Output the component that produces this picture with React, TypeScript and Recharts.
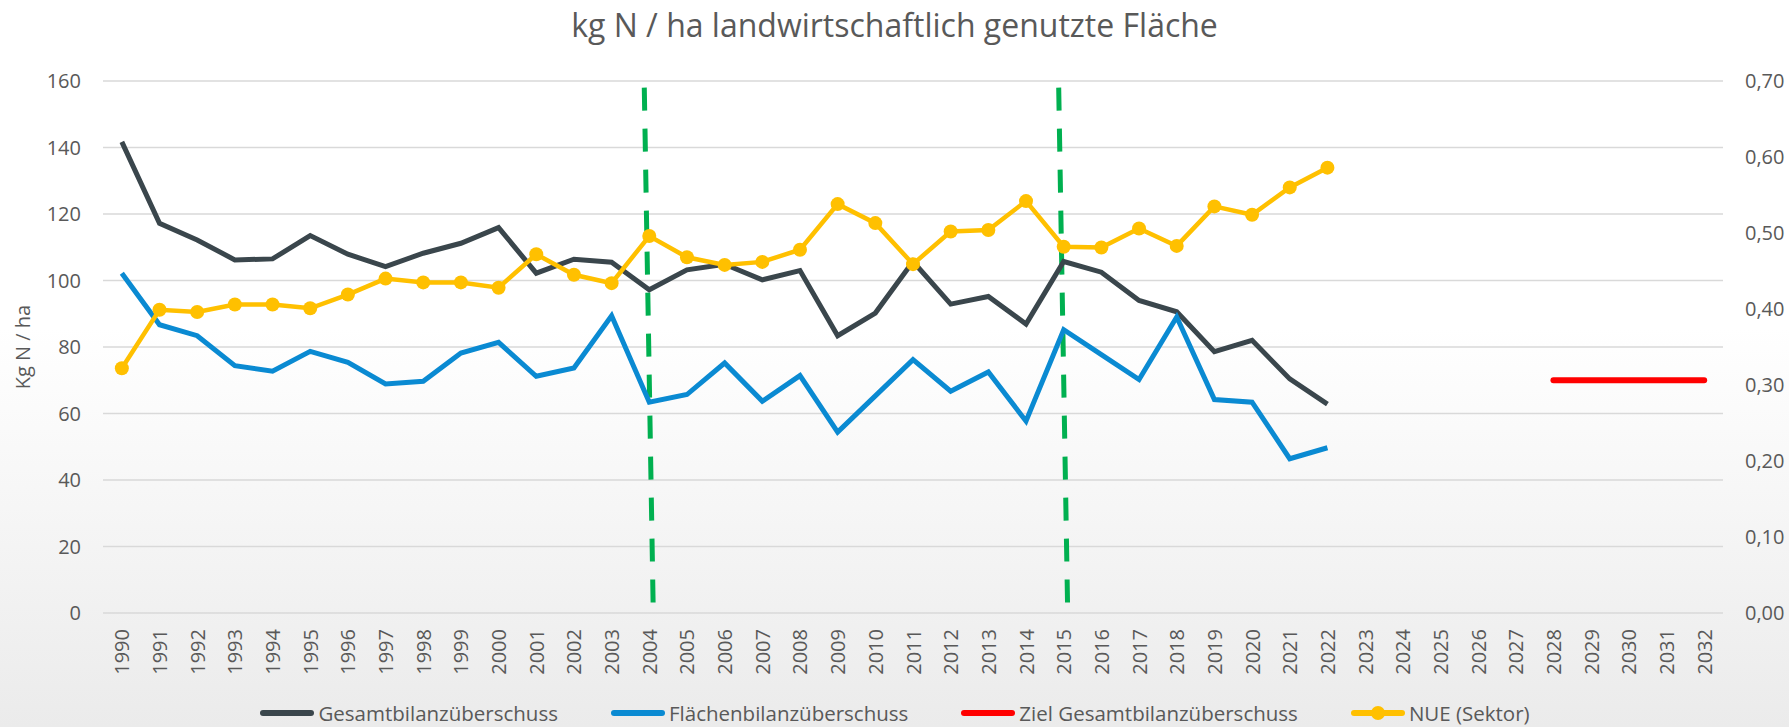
import { CartesianGrid, ComposedChart, Legend, Line, ReferenceLine, XAxis, YAxis } from "recharts";

const years = [
  "1990", "1991", "1992", "1993", "1994", "1995", "1996", "1997", "1998", "1999",
  "2000", "2001", "2002", "2003", "2004", "2005", "2006", "2007", "2008", "2009",
  "2010", "2011", "2012", "2013", "2014", "2015", "2016", "2017", "2018", "2019",
  "2020", "2021", "2022", "2023", "2024", "2025", "2026", "2027", "2028", "2029",
  "2030", "2031", "2032",
];

// kg N / ha, 1990–2022
const gesamt = [
  141.7, 117.2, 112.2, 106.2, 106.5, 113.5, 107.9, 104.2, 108.2, 111.2,
  115.9, 102.2, 106.4, 105.5, 97.2, 103.2, 104.9, 100.2, 103.0, 83.4,
  90.2, 105.7, 92.9, 95.2, 86.9, 105.7, 102.5, 94.0, 90.6, 78.6,
  82.0, 70.4, 62.8,
];

const flaechen = [
  102.2, 86.7, 83.4, 74.4, 72.7, 78.7, 75.4, 68.9, 69.7, 78.2,
  81.4, 71.2, 73.7, 89.4, 63.4, 65.7, 75.2, 63.7, 71.4, 54.4,
  65.3, 76.2, 66.7, 72.5, 57.7, 85.2, 77.7, 70.2, 89.0, 64.2,
  63.4, 46.4, 49.7,
];

// NUE, right axis
const nue = [
  0.322, 0.399, 0.396, 0.406, 0.406, 0.401, 0.419, 0.44, 0.435, 0.435,
  0.428, 0.472, 0.445, 0.434, 0.496, 0.468, 0.458, 0.462, 0.478, 0.538,
  0.513, 0.459, 0.502, 0.504, 0.542, 0.482, 0.481, 0.506, 0.483, 0.535,
  0.524, 0.56, 0.586,
];

const zielYears = ["2028", "2029", "2030", "2031", "2032"];
const zielValue = 70;

const markerYears = ["2004", "2015"];
const markerTop = 158;

const leftTicks = [0, 20, 40, 60, 80, 100, 120, 140, 160];
const rightTicks = [0, 0.1, 0.2, 0.3, 0.4, 0.5, 0.6, 0.7];

const legendOrder = ["gesamt", "flaechen", "ziel", "nue"];

const GRAY = "#3a464c";
const BLUE = "#0a8ad2";
const RED = "#ff0000";
const GOLD = "#ffc000";
const GREEN = "#00b050";
const TEXT = "#595959";
const FONT = "'Open Sans', Lato, sans-serif";

const data = years.map((year, i) => ({
  year,
  gesamt: gesamt[i] ?? null,
  flaechen: flaechen[i] ?? null,
  ziel: zielYears.includes(year) ? zielValue : null,
  nue: nue[i] ?? null,
}));

const fmtRight = (v: number) => v.toFixed(2).replace(".", ",");

function YearTick({ x, y, payload }: any) {
  return (
    <text
      x={x}
      y={y}
      transform={`rotate(-90 ${x} ${y})`}
      textAnchor="end"
      dominantBaseline="central"
      fontSize={20}
      fill={TEXT}
    >
      {payload.value}
    </text>
  );
}

function LeftLabel({ viewBox }: any) {
  const x = viewBox.x + 22;
  const y = viewBox.y + viewBox.height / 2;
  return (
    <text
      x={x}
      y={y}
      transform={`rotate(-90 ${x} ${y})`}
      textAnchor="middle"
      dominantBaseline="central"
      fontSize={20}
      fill={TEXT}
    >
      Kg N / ha
    </text>
  );
}

function LegendContent({ payload }: any) {
  const items = [...(payload || [])].sort(
    (a: any, b: any) => legendOrder.indexOf(a.dataKey) - legendOrder.indexOf(b.dataKey)
  );
  return (
    <div
      style={{
        display: "flex",
        justifyContent: "center",
        gap: 52,
        height: 28,
        lineHeight: "28px",
        fontSize: 20.5,
        color: TEXT,
      }}
    >
      {items.map((p: any) => (
        <span key={p.value} style={{ display: "flex", alignItems: "center", gap: 3 }}>
          <svg width={56} height={16}>
            <line x1={4} y1={8} x2={52} y2={8} stroke={p.color} strokeWidth={6} strokeLinecap="round" />
            {p.dataKey === "nue" && <circle cx={28} cy={8} r={7} fill={p.color} />}
          </svg>
          {p.value}
        </span>
      ))}
    </div>
  );
}

function SlantedDash(props: any) {
  return (
    <line
      x1={props.x1 - 5}
      y1={props.y1}
      x2={props.x2 + 4}
      y2={props.y2}
      stroke={GREEN}
      strokeWidth={5}
      strokeDasharray="23 18"
    />
  );
}

export default function App() {
  return (
    <div
      style={{
        position: "absolute",
        left: 0,
        top: 0,
        width: 1789,
        height: 727,
        fontFamily: FONT,
        background: "linear-gradient(to bottom, #ffffff 0%, #ffffff 45%, #ebebeb 100%)",
        overflow: "hidden",
      }}
    >
      <div
        style={{
          position: "absolute",
          top: 7,
          left: 0,
          width: 1789,
          textAlign: "center",
          fontSize: 32,
          lineHeight: "36px",
          color: TEXT,
        }}
      >
        kg N / ha landwirtschaftlich genutzte Fläche
      </div>
      <ComposedChart
        width={1789}
        height={727}
        data={data}
        margin={{ top: 81, right: 0, bottom: 0, left: 0 }}
      >
        <CartesianGrid yAxisId="left" vertical={false} stroke="#d9d9d9" strokeWidth={1.5} />
        <XAxis
          dataKey="year"
          scale="band"
          interval={0}
          axisLine={false}
          tickLine={false}
          tickSize={0}
          tickMargin={16}
          height={86}
          tick={<YearTick />}
        />
        <YAxis
          yAxisId="left"
          domain={[0, 160]}
          ticks={leftTicks}
          width={103}
          axisLine={false}
          tickLine={false}
          tickSize={0}
          tickMargin={22}
          tick={{ fontSize: 20, fill: TEXT }}
          label={<LeftLabel />}
        />
        <YAxis
          yAxisId="right"
          orientation="right"
          domain={[0, 0.7]}
          ticks={rightTicks}
          width={66}
          axisLine={false}
          tickLine={false}
          tickSize={0}
          tickMargin={22}
          tickFormatter={fmtRight}
          tick={{ fontSize: 20, fill: TEXT, textAnchor: "start" }}
        />
        {markerYears.map((yr) => (
          <ReferenceLine
            key={yr}
            yAxisId="left"
            segment={[
              { x: yr, y: markerTop },
              { x: yr, y: 0 },
            ]}
            shape={<SlantedDash />}
          />
        ))}
        <Line
          yAxisId="left"
          dataKey="gesamt"
          name="Gesamtbilanzüberschuss"
          stroke={GRAY}
          strokeWidth={5}
          dot={false}
          activeDot={false}
          isAnimationActive={false}
        />
        <Line
          yAxisId="left"
          dataKey="flaechen"
          name="Flächenbilanzüberschuss"
          stroke={BLUE}
          strokeWidth={5}
          dot={false}
          activeDot={false}
          isAnimationActive={false}
        />
        <Line
          yAxisId="left"
          dataKey="ziel"
          name="Ziel Gesamtbilanzüberschuss"
          stroke={RED}
          strokeWidth={6}
          strokeLinecap="round"
          dot={false}
          activeDot={false}
          isAnimationActive={false}
        />
        <Line
          yAxisId="right"
          dataKey="nue"
          name="NUE (Sektor)"
          stroke={GOLD}
          strokeWidth={4.5}
          dot={{ r: 7, fill: GOLD, stroke: "none" }}
          activeDot={false}
          isAnimationActive={false}
        />
        <Legend verticalAlign="bottom" align="center" content={<LegendContent />} />
      </ComposedChart>
    </div>
  );
}
